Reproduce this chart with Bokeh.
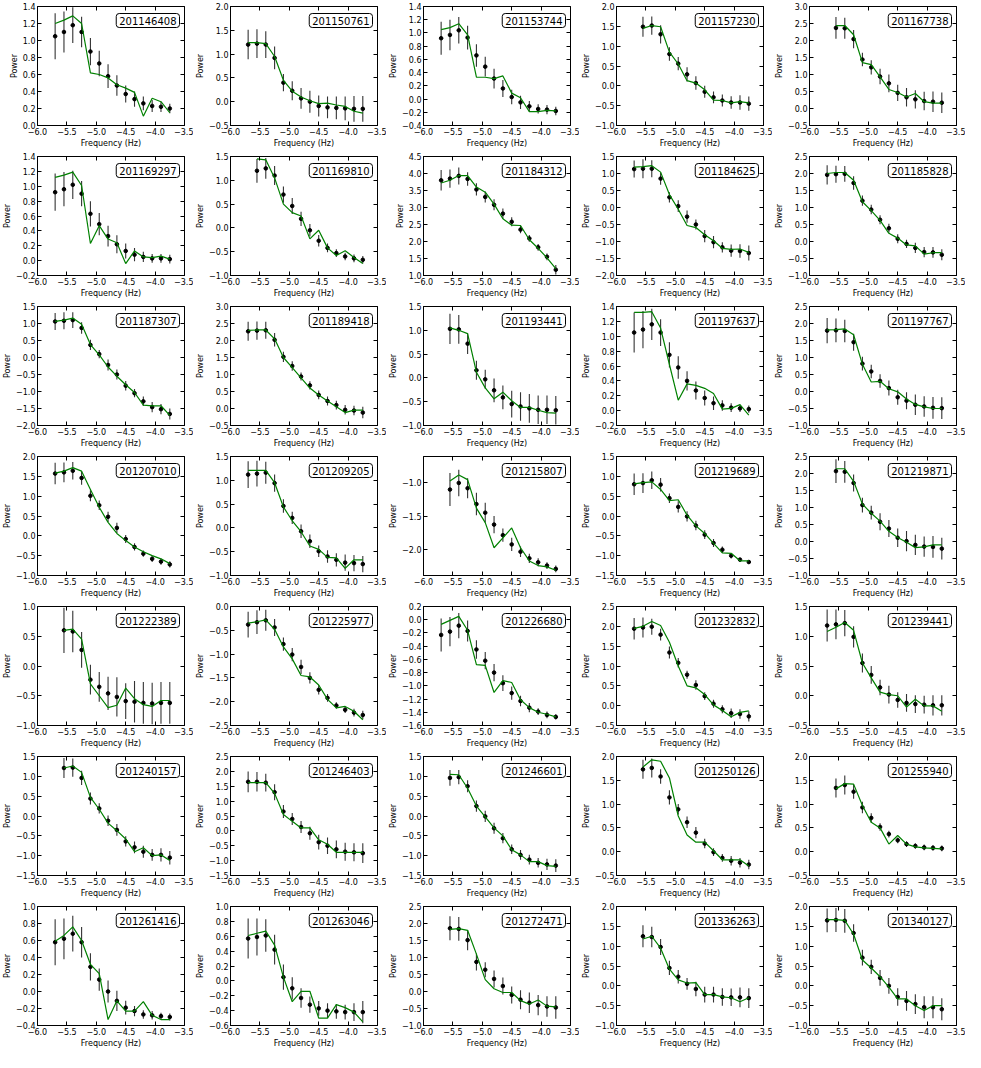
import math
from bokeh.plotting import figure
from bokeh.layouts import gridplot
from bokeh.models import Label, FixedTicker, CustomJSTickFormatter, LinearAxis, Range1d
from bokeh.embed import file_html
from bokeh.resources import INLINE

# log10 frequency bins
FREQ = [-5.70, -5.55, -5.40, -5.25, -5.10, -4.95, -4.80, -4.65, -4.50, -4.35, -4.20, -4.05, -3.90, -3.75]

STAR_IDS = ["201146408", "201150761", "201153744", "201157230", "201167738",
            "201169297", "201169810", "201184312", "201184625", "201185828",
            "201187307", "201189418", "201193441", "201197637", "201197767",
            "201207010", "201209205", "201215807", "201219689", "201219871",
            "201222389", "201225977", "201226680", "201232832", "201239441",
            "201240157", "201246403", "201246601", "201250126", "201255940",
            "201261416", "201263046", "201272471", "201336263", "201340127"]

# index of first frequency bin used in each panel
FIRST_BIN = [0, 0, 0, 1, 1,
             0, 1, 0, 0, 0,
             0, 0, 1, 0, 0,
             0, 0, 1, 0, 1,
             1, 0, 0, 0, 0,
             1, 0, 1, 1, 1,
             0, 0, 1, 1, 0]

# y-axis limits and tick step
Y_LIMITS = [(0.0, 1.4), (-0.5, 2.0), (-0.4, 1.4), (-1.0, 2.0), (-0.5, 3.0),
            (-0.2, 1.4), (-1.0, 1.5), (1.0, 4.5), (-2.0, 1.5), (-1.0, 2.5),
            (-2.0, 1.5), (-0.5, 3.0), (-1.0, 1.5), (-0.2, 1.4), (-1.0, 2.5),
            (-1.0, 2.0), (-1.0, 1.5), (-2.4, -0.6), (-1.5, 1.5), (-1.0, 2.5),
            (-1.0, 1.0), (-2.5, 0.0), (-1.6, 0.2), (-0.5, 2.5), (-0.5, 1.5),
            (-1.5, 1.5), (-1.5, 2.5), (-1.5, 1.5), (-0.5, 2.0), (-0.5, 2.0),
            (-0.4, 1.0), (-0.6, 1.0), (-1.0, 2.5), (-1.0, 2.0), (-1.0, 2.0)]
Y_STEP = [0.2, 0.5, 0.2, 0.5, 0.5,
          0.2, 0.5, 0.5, 0.5, 0.5,
          0.5, 0.5, 0.5, 0.2, 0.5,
          0.5, 0.5, 0.5, 0.5, 0.5,
          0.5, 0.5, 0.2, 0.5, 0.5,
          0.5, 0.5, 0.5, 0.5, 0.5,
          0.2, 0.2, 0.5, 0.5, 0.5]

POWER = [
    [1.05, 1.10, 1.18, 1.10, 0.87, 0.73, 0.58, 0.47, 0.37, 0.31, 0.26, 0.23, 0.22, 0.20],
    [1.20, 1.22, 1.20, 0.92, 0.40, 0.23, 0.07, 0.00, -0.09, -0.12, -0.13, -0.14, -0.15, -0.15],
    [0.92, 0.97, 1.04, 0.93, 0.66, 0.49, 0.31, 0.16, 0.03, -0.05, -0.11, -0.15, -0.16, -0.18],
    [1.49, 1.52, 1.30, 0.80, 0.56, 0.29, 0.07, -0.15, -0.29, -0.37, -0.42, -0.42, -0.45],
    [2.37, 2.36, 2.04, 1.44, 1.21, 0.94, 0.74, 0.46, 0.33, 0.27, 0.22, 0.20, 0.17],
    [0.92, 0.96, 1.02, 0.90, 0.63, 0.49, 0.33, 0.22, 0.13, 0.08, 0.05, 0.03, 0.03, 0.02],
    [1.20, 1.25, 1.10, 0.70, 0.46, 0.19, -0.05, -0.27, -0.42, -0.53, -0.60, -0.64, -0.67],
    [3.80, 3.85, 3.93, 3.84, 3.53, 3.31, 3.08, 2.82, 2.58, 2.35, 2.09, 1.83, 1.55, 1.17],
    [1.13, 1.14, 1.14, 0.85, 0.30, 0.04, -0.27, -0.50, -0.84, -1.02, -1.17, -1.27, -1.28, -1.34],
    [1.96, 1.98, 1.99, 1.72, 1.20, 0.94, 0.64, 0.39, 0.08, -0.07, -0.19, -0.31, -0.32, -0.39],
    [1.06, 1.08, 1.10, 0.87, 0.37, 0.10, -0.22, -0.50, -0.83, -1.05, -1.29, -1.46, -1.52, -1.66],
    [2.27, 2.29, 2.30, 2.02, 1.52, 1.25, 0.94, 0.68, 0.40, 0.22, 0.10, -0.04, -0.06, -0.12],
    [1.03, 1.02, 0.72, 0.16, -0.03, -0.26, -0.41, -0.55, -0.60, -0.64, -0.67, -0.67, -0.68],
    [1.05, 1.09, 1.16, 1.05, 0.75, 0.58, 0.40, 0.27, 0.17, 0.10, 0.07, 0.04, 0.03, 0.02],
    [1.79, 1.80, 1.78, 1.45, 0.82, 0.59, 0.31, 0.10, -0.17, -0.27, -0.39, -0.44, -0.48, -0.49],
    [1.57, 1.60, 1.64, 1.46, 1.01, 0.77, 0.48, 0.20, -0.08, -0.28, -0.45, -0.58, -0.65, -0.72],
    [1.12, 1.14, 1.16, 0.94, 0.46, 0.21, -0.07, -0.28, -0.49, -0.60, -0.67, -0.73, -0.74, -0.76],
    [-1.10, -1.00, -1.08, -1.32, -1.45, -1.63, -1.79, -1.93, -2.04, -2.14, -2.20, -2.25, -2.30],
    [0.80, 0.83, 0.90, 0.79, 0.45, 0.23, -0.01, -0.24, -0.47, -0.68, -0.85, -1.00, -1.10, -1.16],
    [2.07, 2.05, 1.72, 1.07, 0.85, 0.58, 0.38, 0.11, 0.01, -0.10, -0.15, -0.16, -0.21],
    [0.60, 0.58, 0.27, -0.23, -0.35, -0.46, -0.52, -0.59, -0.60, -0.62, -0.63, -0.62, -0.62],
    [-0.38, -0.33, -0.29, -0.44, -0.79, -1.01, -1.27, -1.50, -1.75, -1.92, -2.08, -2.17, -2.23, -2.28],
    [-0.23, -0.18, -0.09, -0.17, -0.45, -0.62, -0.80, -0.96, -1.11, -1.23, -1.33, -1.39, -1.44, -1.47],
    [1.94, 1.97, 1.99, 1.79, 1.34, 1.08, 0.78, 0.52, 0.24, 0.05, -0.09, -0.19, -0.21, -0.27],
    [1.18, 1.20, 1.22, 0.99, 0.55, 0.35, 0.14, 0.02, -0.07, -0.12, -0.14, -0.15, -0.16, -0.16],
    [1.21, 1.22, 0.96, 0.44, 0.19, -0.12, -0.35, -0.64, -0.79, -0.90, -0.98, -0.98, -1.05],
    [1.65, 1.65, 1.62, 1.30, 0.65, 0.40, 0.13, -0.08, -0.38, -0.50, -0.62, -0.70, -0.72, -0.75],
    [0.96, 0.98, 0.75, 0.25, -0.01, -0.31, -0.56, -0.84, -0.98, -1.10, -1.18, -1.22, -1.25],
    [1.73, 1.76, 1.58, 1.14, 0.89, 0.62, 0.40, 0.17, -0.01, -0.13, -0.19, -0.23, -0.27],
    [1.34, 1.40, 1.26, 0.93, 0.71, 0.52, 0.37, 0.24, 0.16, 0.12, 0.09, 0.08, 0.07],
    [0.58, 0.62, 0.68, 0.58, 0.29, 0.14, 0.00, -0.11, -0.19, -0.23, -0.27, -0.28, -0.29, -0.30],
    [0.57, 0.59, 0.61, 0.42, 0.05, -0.10, -0.23, -0.32, -0.37, -0.40, -0.41, -0.42, -0.42, -0.42],
    [1.86, 1.84, 1.51, 0.87, 0.64, 0.37, 0.16, -0.10, -0.24, -0.33, -0.40, -0.44, -0.47],
    [1.25, 1.23, 0.98, 0.45, 0.23, 0.05, -0.08, -0.22, -0.22, -0.28, -0.29, -0.29, -0.31],
    [1.65, 1.66, 1.64, 1.33, 0.71, 0.48, 0.20, 0.00, -0.28, -0.38, -0.46, -0.54, -0.54, -0.59],
]

POWER_ERR = [
    [0.27, 0.24, 0.21, 0.18, 0.16, 0.15, 0.14, 0.12, 0.10, 0.09, 0.08, 0.07, 0.06, 0.055],
    [0.31, 0.30, 0.28, 0.24, 0.18, 0.20, 0.22, 0.23, 0.22, 0.23, 0.24, 0.25, 0.27, 0.27],
    [0.25, 0.23, 0.20, 0.18, 0.17, 0.15, 0.15, 0.13, 0.11, 0.10, 0.08, 0.07, 0.07, 0.065],
    [0.25, 0.23, 0.23, 0.17, 0.17, 0.18, 0.17, 0.15, 0.15, 0.15, 0.16, 0.18, 0.18],
    [0.32, 0.31, 0.27, 0.20, 0.21, 0.23, 0.26, 0.24, 0.27, 0.27, 0.27, 0.30, 0.30],
    [0.25, 0.23, 0.19, 0.17, 0.17, 0.15, 0.14, 0.12, 0.10, 0.09, 0.07, 0.06, 0.06, 0.06],
    [0.25, 0.22, 0.20, 0.17, 0.17, 0.15, 0.13, 0.12, 0.09, 0.08, 0.08, 0.08, 0.08],
    [0.30, 0.27, 0.25, 0.20, 0.18, 0.16, 0.16, 0.15, 0.13, 0.11, 0.10, 0.10, 0.10, 0.14],
    [0.25, 0.28, 0.25, 0.18, 0.15, 0.17, 0.18, 0.15, 0.18, 0.18, 0.15, 0.18, 0.20, 0.22],
    [0.28, 0.25, 0.23, 0.20, 0.15, 0.14, 0.13, 0.13, 0.13, 0.12, 0.15, 0.15, 0.16, 0.16],
    [0.25, 0.25, 0.23, 0.17, 0.15, 0.12, 0.16, 0.15, 0.14, 0.12, 0.14, 0.15, 0.15, 0.16],
    [0.28, 0.27, 0.25, 0.20, 0.15, 0.14, 0.12, 0.12, 0.13, 0.13, 0.13, 0.14, 0.14, 0.17],
    [0.32, 0.30, 0.22, 0.20, 0.20, 0.25, 0.25, 0.28, 0.30, 0.30, 0.30, 0.30, 0.30],
    [0.27, 0.25, 0.21, 0.18, 0.17, 0.15, 0.13, 0.12, 0.10, 0.09, 0.07, 0.06, 0.05, 0.05],
    [0.37, 0.35, 0.33, 0.25, 0.20, 0.20, 0.20, 0.22, 0.22, 0.25, 0.30, 0.30, 0.32, 0.32],
    [0.27, 0.25, 0.22, 0.17, 0.14, 0.12, 0.13, 0.13, 0.10, 0.09, 0.08, 0.08, 0.08, 0.08],
    [0.28, 0.27, 0.23, 0.18, 0.14, 0.13, 0.14, 0.14, 0.12, 0.13, 0.14, 0.17, 0.17, 0.17],
    [0.25, 0.20, 0.15, 0.17, 0.15, 0.13, 0.10, 0.10, 0.08, 0.07, 0.06, 0.05, 0.05],
    [0.27, 0.25, 0.22, 0.17, 0.12, 0.14, 0.13, 0.12, 0.11, 0.10, 0.08, 0.07, 0.05, 0.05],
    [0.35, 0.32, 0.25, 0.22, 0.20, 0.25, 0.25, 0.27, 0.30, 0.30, 0.30, 0.32, 0.32],
    [0.38, 0.35, 0.30, 0.25, 0.25, 0.28, 0.33, 0.30, 0.35, 0.35, 0.35, 0.35, 0.35],
    [0.27, 0.25, 0.22, 0.18, 0.14, 0.14, 0.15, 0.12, 0.10, 0.08, 0.07, 0.07, 0.08, 0.09],
    [0.25, 0.22, 0.19, 0.16, 0.14, 0.13, 0.13, 0.12, 0.10, 0.08, 0.07, 0.05, 0.05, 0.04],
    [0.27, 0.25, 0.20, 0.15, 0.15, 0.12, 0.10, 0.12, 0.10, 0.10, 0.10, 0.12, 0.12, 0.13],
    [0.27, 0.25, 0.22, 0.18, 0.16, 0.15, 0.13, 0.15, 0.13, 0.15, 0.15, 0.15, 0.17, 0.17],
    [0.25, 0.23, 0.18, 0.15, 0.13, 0.13, 0.15, 0.13, 0.15, 0.15, 0.15, 0.17, 0.17],
    [0.35, 0.33, 0.30, 0.27, 0.22, 0.20, 0.20, 0.22, 0.25, 0.28, 0.30, 0.30, 0.30, 0.33],
    [0.20, 0.18, 0.15, 0.14, 0.14, 0.14, 0.13, 0.12, 0.12, 0.12, 0.12, 0.14, 0.16],
    [0.20, 0.20, 0.15, 0.15, 0.11, 0.12, 0.12, 0.10, 0.08, 0.08, 0.10, 0.10, 0.10],
    [0.20, 0.20, 0.15, 0.12, 0.10, 0.08, 0.07, 0.06, 0.06, 0.06, 0.06, 0.06, 0.06],
    [0.27, 0.24, 0.21, 0.18, 0.16, 0.13, 0.13, 0.12, 0.08, 0.06, 0.05, 0.05, 0.04, 0.04],
    [0.27, 0.25, 0.22, 0.20, 0.17, 0.15, 0.13, 0.11, 0.10, 0.10, 0.10, 0.10, 0.12, 0.15],
    [0.35, 0.35, 0.30, 0.25, 0.22, 0.25, 0.25, 0.25, 0.28, 0.30, 0.30, 0.30, 0.33],
    [0.28, 0.26, 0.20, 0.18, 0.17, 0.15, 0.18, 0.20, 0.20, 0.22, 0.22, 0.25, 0.25],
    [0.30, 0.30, 0.30, 0.22, 0.20, 0.18, 0.20, 0.20, 0.22, 0.25, 0.25, 0.28, 0.28, 0.28],
]

MODEL = [
    [1.20, 1.24, 1.29, 1.20, 0.62, 0.60, 0.56, 0.48, 0.44, 0.39, 0.11, 0.32, 0.28, 0.15],
    [1.24, 1.24, 1.22, 0.95, 0.45, 0.22, 0.10, 0.02, -0.04, -0.03, -0.07, -0.10, -0.20, -0.24],
    [1.05, 1.08, 1.14, 0.97, 0.33, 0.33, 0.31, 0.35, 0.09, 0.02, -0.19, -0.19, -0.17, -0.18],
    [1.45, 1.52, 1.49, 0.85, 0.55, 0.13, 0.07, -0.10, -0.36, -0.37, -0.43, -0.40, -0.43],
    [2.44, 2.44, 2.17, 1.35, 1.29, 0.93, 0.56, 0.47, 0.34, 0.44, 0.20, 0.16, 0.16],
    [1.12, 1.15, 1.19, 1.01, 0.23, 0.47, 0.29, 0.24, -0.04, 0.13, 0.05, 0.04, 0.06, 0.02],
    [1.45, 1.43, 1.05, 0.50, 0.32, 0.25, -0.23, -0.05, -0.42, -0.58, -0.48, -0.62, -0.75],
    [3.72, 3.80, 3.94, 3.94, 3.60, 3.45, 3.10, 2.67, 2.48, 2.47, 2.05, 1.80, 1.52, 1.20],
    [1.19, 1.20, 1.23, 1.04, 0.38, -0.05, -0.53, -0.59, -0.80, -0.98, -1.20, -1.23, -1.22, -1.32],
    [2.00, 2.03, 2.03, 1.80, 1.17, 0.91, 0.62, 0.24, 0.10, -0.10, -0.13, -0.37, -0.33, -0.33],
    [1.06, 1.10, 1.16, 0.98, 0.38, 0.08, -0.28, -0.55, -0.80, -1.03, -1.40, -1.42, -1.42, -1.70],
    [2.30, 2.31, 2.31, 2.05, 1.50, 1.20, 0.90, 0.60, 0.40, 0.22, 0.05, -0.12, -0.05, -0.05],
    [1.05, 1.00, 0.93, 0.12, -0.21, -0.44, -0.30, -0.48, -0.62, -0.62, -0.68, -0.73, -0.74],
    [1.32, 1.32, 1.33, 1.11, 0.62, 0.14, 0.36, 0.34, 0.30, 0.23, 0.02, 0.03, 0.08, -0.06],
    [1.81, 1.82, 1.84, 1.67, 0.80, 0.28, 0.30, 0.08, -0.01, -0.22, -0.38, -0.45, -0.50, -0.50],
    [1.58, 1.63, 1.72, 1.63, 1.17, 0.72, 0.34, 0.06, -0.12, -0.28, -0.40, -0.50, -0.58, -0.70],
    [1.21, 1.21, 1.21, 0.95, 0.44, 0.15, -0.08, -0.38, -0.45, -0.62, -0.63, -0.85, -0.67, -0.67],
    [-0.97, -0.88, -0.95, -1.38, -1.60, -1.98, -1.83, -1.68, -1.98, -2.18, -2.25, -2.27, -2.32],
    [0.81, 0.84, 0.86, 0.67, 0.39, 0.41, 0.02, -0.25, -0.44, -0.69, -0.93, -0.94, -1.13, -1.13],
    [2.14, 2.14, 1.77, 1.10, 0.83, 0.60, 0.30, 0.12, -0.02, -0.18, -0.16, -0.10, -0.10],
    [0.60, 0.62, 0.45, -0.30, -0.50, -0.70, -0.66, -0.37, -0.55, -0.65, -0.68, -0.58, -0.58],
    [-0.35, -0.32, -0.28, -0.48, -0.85, -1.10, -1.45, -1.48, -1.65, -1.95, -2.13, -2.10, -2.20, -2.38],
    [-0.07, -0.01, 0.05, -0.16, -0.68, -0.69, -1.10, -0.92, -0.95, -1.21, -1.33, -1.40, -1.43, -1.47],
    [1.95, 2.00, 2.12, 2.02, 1.60, 1.00, 0.50, 0.45, 0.28, 0.02, -0.12, -0.28, -0.17, -0.13],
    [1.08, 1.15, 1.23, 1.10, 0.55, 0.30, 0.06, 0.02, 0.00, -0.19, -0.06, -0.17, -0.17, -0.26],
    [1.21, 1.26, 1.10, 0.47, 0.17, -0.18, -0.37, -0.58, -0.90, -0.80, -1.00, -0.98, -1.12],
    [1.62, 1.62, 1.62, 1.26, 0.55, 0.32, 0.10, 0.10, -0.30, -0.45, -0.72, -0.72, -0.72, -0.72],
    [1.05, 1.04, 0.70, 0.25, -0.02, -0.30, -0.50, -0.85, -0.98, -1.15, -1.15, -1.25, -1.27],
    [1.78, 1.93, 1.90, 1.55, 0.75, 0.35, 0.20, 0.20, 0.02, -0.17, -0.17, -0.17, -0.30],
    [1.32, 1.43, 1.42, 0.97, 0.62, 0.50, 0.16, 0.34, 0.16, 0.10, 0.08, 0.07, 0.06],
    [0.59, 0.66, 0.76, 0.60, 0.32, 0.21, -0.33, -0.11, -0.23, -0.23, -0.12, -0.28, -0.33, -0.33],
    [0.61, 0.64, 0.67, 0.48, 0.05, -0.28, -0.14, -0.14, -0.50, -0.50, -0.32, -0.36, -0.42, -0.55],
    [1.83, 1.85, 1.80, 1.10, 0.35, 0.08, -0.03, -0.03, -0.27, -0.37, -0.25, -0.43, -0.45],
    [1.18, 1.25, 0.95, 0.42, 0.15, 0.07, 0.08, -0.22, -0.22, -0.28, -0.30, -0.40, -0.30],
    [1.67, 1.67, 1.65, 1.30, 0.65, 0.45, 0.23, -0.03, -0.33, -0.33, -0.50, -0.62, -0.50, -0.50],
]

X_LIMITS = (-6.0, -3.5)
X_TICKS = [-6.0, -5.5, -5.0, -4.5, -4.0, -3.5]

FONT = "DejaVu Sans"
NCOLS = 5
CELL_W = 193
CELL_H = 150

fmt_code = "return tick.toFixed(1).replace('-', '\u2212');"


def y_ticks(lo, hi, step):
    k0 = math.ceil(lo / step - 1e-9)
    k1 = math.floor(hi / step + 1e-9)
    return [round(k * step, 2) for k in range(k0, k1 + 1)]


def style_axis(ax, show_labels=True):
    ax.major_tick_in = 4
    ax.major_tick_out = 0
    ax.minor_tick_line_color = None
    ax.axis_line_color = "black"
    ax.major_tick_line_color = "black"
    ax.major_label_text_font = FONT
    if show_labels:
        ax.major_label_text_color = "black"
        ax.major_label_text_font_size = "8px"
        ax.major_label_standoff = 2
    else:
        # tick marks only: labels are not painted
        ax.major_label_text_color = None
        ax.major_label_text_alpha = 0
        ax.major_label_text_font_size = "1px"
        ax.major_label_standoff = 0
        ax.axis_line_color = None


figs = []
for i, sid in enumerate(STAR_IDS):
    lo, hi = Y_LIMITS[i]
    step = Y_STEP[i]
    xs = FREQ[FIRST_BIN[i]:]
    ys = POWER[i]
    es = POWER_ERR[i]
    ms = MODEL[i]

    p = figure(width=CELL_W, height=CELL_H, output_backend="svg", toolbar_location=None,
               x_range=Range1d(*X_LIMITS), y_range=Range1d(lo, hi),
               min_border_left=33, min_border_right=9, min_border_top=6, min_border_bottom=18)
    p.xgrid.visible = False
    p.ygrid.visible = False
    p.outline_line_color = "black"
    p.outline_line_alpha = 1.0
    p.background_fill_color = "white"
    p.border_fill_color = "white"

    p.xaxis.ticker = FixedTicker(ticks=X_TICKS)
    p.yaxis.ticker = FixedTicker(ticks=y_ticks(lo, hi, step))
    p.xaxis.formatter = CustomJSTickFormatter(code=fmt_code)
    p.yaxis.formatter = CustomJSTickFormatter(code=fmt_code)
    for ax in (p.xaxis[0], p.yaxis[0]):
        style_axis(ax)
        ax.axis_label_text_font = FONT
        ax.axis_label_text_font_size = "8px"
        ax.axis_label_text_font_style = "normal"
        ax.axis_label_text_color = "black"
        ax.axis_label_standoff = 1
    p.xaxis.axis_label = "Frequency (Hz)"
    p.yaxis.axis_label = "Power"

    top_ax = LinearAxis(ticker=FixedTicker(ticks=X_TICKS))
    style_axis(top_ax, show_labels=False)
    p.add_layout(top_ax, "above")
    right_ax = LinearAxis(ticker=FixedTicker(ticks=y_ticks(lo, hi, step)))
    style_axis(right_ax, show_labels=False)
    p.add_layout(right_ax, "right")

    lows = [y - e for y, e in zip(ys, es)]
    highs = [y + e for y, e in zip(ys, es)]
    p.segment(x0=xs, y0=lows, x1=xs, y1=highs, line_color="#333333", line_width=1.1)
    p.scatter(x=xs, y=ys, size=3.6, marker="circle", fill_color="black", line_color="black")
    p.line(x=xs, y=ms, line_color="#008000", line_width=1.2)

    lab = Label(x=X_LIMITS[1], y=hi, x_offset=-5, y_offset=-7, text=sid,
                text_align="right", text_baseline="top",
                text_font=FONT, text_font_size="10px", text_color="black",
                border_line_color="black", border_line_width=1,
                background_fill_color="white", padding=3, border_radius=3)
    p.add_layout(lab)
    figs.append(p)

rows = [figs[r * NCOLS:(r + 1) * NCOLS] for r in range(len(figs) // NCOLS)]
grid = gridplot(rows, toolbar_location=None)

open("out.html", "w").write(file_html(grid, INLINE))
